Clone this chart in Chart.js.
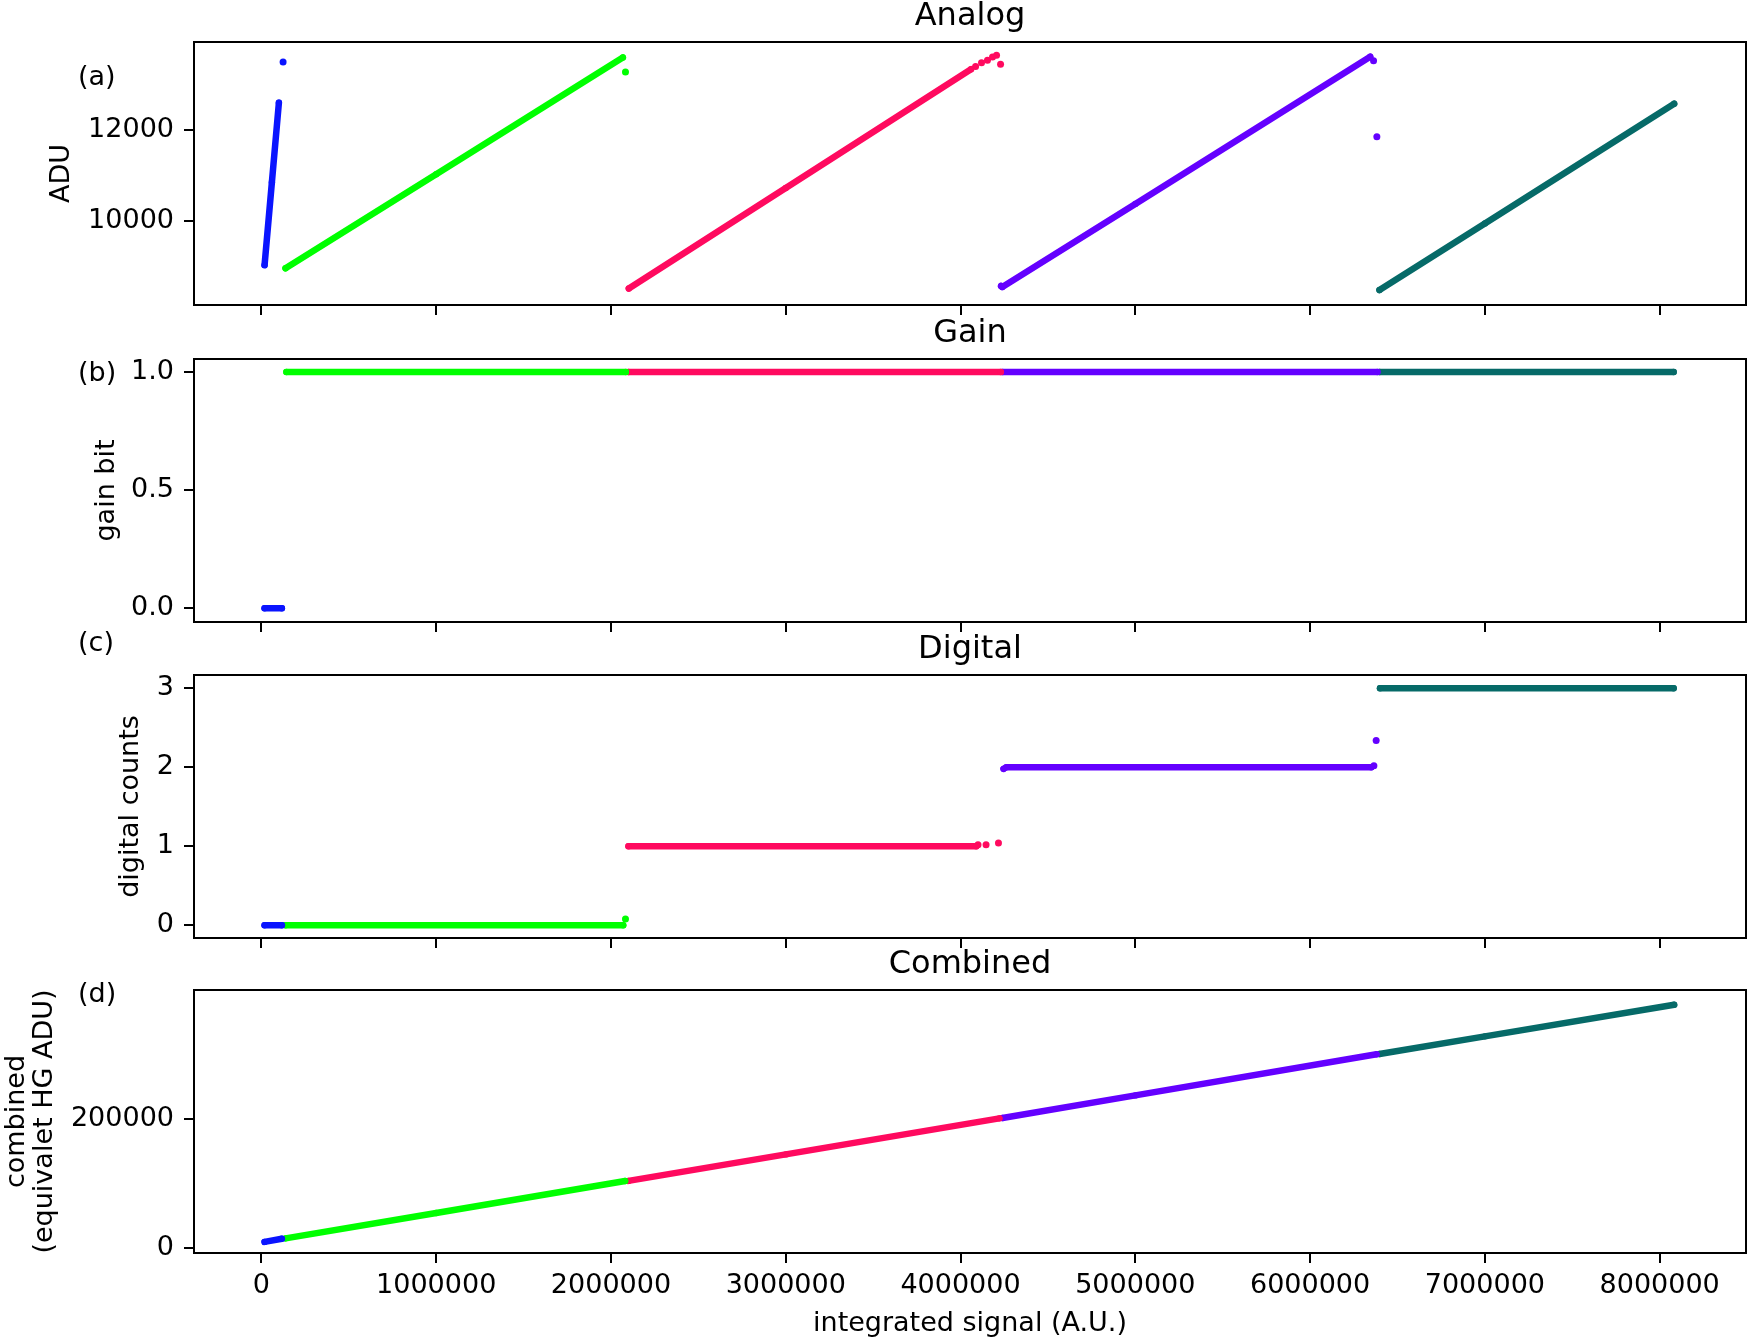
<!DOCTYPE html>
<html>
<head>
<meta charset="utf-8">
<title>Analog / Gain / Digital / Combined</title>
<script src="https://cdn.jsdelivr.net/npm/chart.js@4.4.1/dist/chart.umd.min.js"></script>
<style>
  body { margin: 0; background: #fff; }
  #wrap { position: relative; width: 1750px; height: 1339px; }
  #wrap canvas { position: absolute; left: 0; top: 0; }
</style>
</head>
<body>
<div id="wrap">
  <canvas id="analog" width="1750" height="1339"></canvas>
  <canvas id="gain" width="1750" height="1339"></canvas>
  <canvas id="digital" width="1750" height="1339"></canvas>
  <canvas id="combined" width="1750" height="1339"></canvas>
</div>
<script>
// shared x axis (integrated signal, A.U.)
const xTicks = [0, 1000000, 2000000, 3000000, 4000000, 5000000, 6000000, 7000000, 8000000];
const xMin = -385700, xMax = 8494000;

// colours of the five ranges
const cBlue = '#0a14ff', cGreen = '#00ff00', cRed = '#ff0a5f', cPurple = '#6400ff', cTeal = '#066a68';

// (a) Analog, ADU
const analogTicks = [10000, 12000];
const analogBlue = [[18000, 9020], [60000, 10850], [100000, 12600]];
const analogBlueOut = [[124000, 13500]];
const analogGreen = [[138000, 8950], [1000000, 11025], [2068000, 13600]];
const analogGreenOut = [[2083000, 13280]];
const analogRed = [[2102000, 8505], [3000000, 10720], [4060000, 13340]];
const analogRedOut = [[4086000, 13400], [4120000, 13480], [4154000, 13540], [4183000, 13610], [4206000, 13650], [4229000, 13450]];
const analogPurple = [[4232000, 8560], [4239000, 8537], [5000000, 10370], [6344000, 13616]];
const analogPurpleOut = [[6363000, 13528], [6382000, 11852]];
const analogTeal = [[6397000, 8472], [7000000, 9940], [8083000, 12580]];

// (b) Gain bit
const gainTicks = [0, 0.5, 1.0];
const gainBlue = [[18000, 0], [117000, 0]];
const gainGreen = [[143000, 1], [2085000, 1]];
const gainRed = [[2100000, 1], [4230000, 1]];
const gainPurple = [[4240000, 1], [6385000, 1]];
const gainTeal = [[6397000, 1], [8080000, 1]];

// (c) Digital counts
const digitalTicks = [0, 1, 2, 3];
const digitalBlue = [[18000, 0], [117000, 0]];
const digitalGreen = [[138000, 0], [2070000, 0]];
const digitalGreenOut = [[2083000, 0.08]];
const digitalRed = [[2100000, 1], [4090000, 1]];
const digitalRedOut = [[4100000, 1.02], [4146000, 1.02], [4217000, 1.04]];
const digitalPurple = [[4246000, 1.98], [4262000, 2], [6350000, 2]];
const digitalPurpleOut = [[6365000, 2.02], [6378000, 2.34]];
const digitalTeal = [[6400000, 3], [8080000, 3]];

// (d) Combined, equivalent HG ADU
const combinedTicks = [0, 200000];
const combinedBlue = [[18000, 9000], [117000, 14000]];
const combinedGreen = [[138000, 14500], [1000000, 54000], [2081000, 103600]];
const combinedRed = [[2100000, 103800], [3000000, 145000], [4222000, 201000]];
const combinedPurple = [[4240000, 201600], [5000000, 236700], [6380000, 300500]];
const combinedTeal = [[6397000, 301000], [7000000, 328400], [8083000, 377500]];

Chart.defaults.font.family = '"DejaVu Sans", sans-serif';
Chart.defaults.font.size = 27;
Chart.defaults.color = '#000';

function line(data, color) {
    return {data: data, showLine: true, borderColor: color, backgroundColor: color,
        borderWidth: 6.5, borderCapStyle: 'round', borderJoinStyle: 'round',
        pointRadius: 3.2, pointBorderWidth: 0};
}
function dots(data, color) {
    return {data: data, showLine: false, backgroundColor: color, pointRadius: 3.5, pointBorderWidth: 0};
}

// frame, panel title, letter and y label (plus x label on the last panel)
function panelText(t) {
    return {
        id: 'panelText',
        afterDraw(chart) {
            const ctx = chart.ctx, a = chart.chartArea;
            ctx.save();
            ctx.strokeStyle = '#000';
            ctx.lineWidth = 2;
            ctx.strokeRect(a.left, a.top, a.right - a.left, a.bottom - a.top);
            ctx.fillStyle = '#000';
            ctx.textBaseline = 'alphabetic';
            ctx.font = '32px "DejaVu Sans"';
            ctx.textAlign = 'center';
            ctx.fillText(t.title, (a.left + a.right) / 2, a.top - 17);
            ctx.font = '27px "DejaVu Sans"';
            ctx.textAlign = 'left';
            ctx.fillText(t.letter, 78, t.letterY);
            ctx.textAlign = 'center';
            t.yLabel.forEach(function (s, i) {
                ctx.save();
                ctx.translate(t.yLabelX[i], (a.top + a.bottom) / 2);
                ctx.rotate(-Math.PI / 2);
                ctx.fillText(s, 0, 0);
                ctx.restore();
            });
            if (t.xLabel) ctx.fillText(t.xLabel, (a.left + a.right) / 2, 1331);
            ctx.restore();
        }
    };
}

function makePanel(id, top, bottom, yMin, yMax, yTicks, yFmt, datasets, text, showX) {
    const xh = 60;
    const grid = {display: true, drawOnChartArea: false, drawTicks: true, tickLength: 10, color: '#000', lineWidth: 2};
    new Chart(document.getElementById(id), {
        type: 'scatter',
        data: {datasets: datasets},
        options: {
            responsive: false,
            animation: false,
            devicePixelRatio: 1,
            layout: {padding: {top: top, bottom: 1339 - bottom - xh, left: 0, right: 2}},
            plugins: {legend: {display: false}, tooltip: {enabled: false}},
            scales: {
                x: {
                    type: 'linear', min: xMin, max: xMax,
                    afterBuildTicks: s => { s.ticks = xTicks.map(v => ({value: v})); },
                    afterFit: s => { s.height = xh; },
                    ticks: {display: showX, padding: 7, maxRotation: 0, autoSkip: false, callback: v => String(v)},
                    grid: grid,
                    border: {display: false}
                },
                y: {
                    type: 'linear', min: yMin, max: yMax,
                    afterBuildTicks: s => { s.ticks = yTicks.map(v => ({value: v})); },
                    afterFit: s => { s.width = 194; },
                    ticks: {padding: 10, callback: yFmt},
                    grid: grid,
                    border: {display: false}
                }
            }
        },
        plugins: [panelText(text)]
    });
}

makePanel('analog', 42, 305, 8141, 13940, analogTicks, v => String(v), [
    line(analogBlue, cBlue), dots(analogBlueOut, cBlue),
    line(analogGreen, cGreen), dots(analogGreenOut, cGreen),
    line(analogRed, cRed), dots(analogRedOut, cRed),
    line(analogPurple, cPurple), dots(analogPurpleOut, cPurple),
    line(analogTeal, cTeal)
], {title: 'Analog', letter: '(a)', letterY: 85, yLabel: ['ADU'], yLabelX: [69]}, false);

makePanel('gain', 359, 622, -0.058, 1.055, gainTicks, v => v.toFixed(1), [
    line(gainBlue, cBlue), line(gainGreen, cGreen), line(gainRed, cRed),
    line(gainPurple, cPurple), line(gainTeal, cTeal)
], {title: 'Gain', letter: '(b)', letterY: 381, yLabel: ['gain bit'], yLabelX: [114]}, false);

makePanel('digital', 675, 938, -0.161, 3.168, digitalTicks, v => String(v), [
    line(digitalBlue, cBlue),
    line(digitalGreen, cGreen), dots(digitalGreenOut, cGreen),
    line(digitalRed, cRed), dots(digitalRedOut, cRed),
    line(digitalPurple, cPurple), dots(digitalPurpleOut, cPurple),
    line(digitalTeal, cTeal)
], {title: 'Digital', letter: '(c)', letterY: 651, yLabel: ['digital counts'], yLabelX: [138]}, false);

makePanel('combined', 990, 1253, -8236, 400466, combinedTicks, v => String(v), [
    line(combinedBlue, cBlue), line(combinedGreen, cGreen), line(combinedRed, cRed),
    line(combinedPurple, cPurple), line(combinedTeal, cTeal)
], {title: 'Combined', letter: '(d)', letterY: 1002, yLabel: ['combined', '(equivalet HG ADU)'], yLabelX: [24, 51.5],
    xLabel: 'integrated signal (A.U.)'}, true);
</script>
</body>
</html>
